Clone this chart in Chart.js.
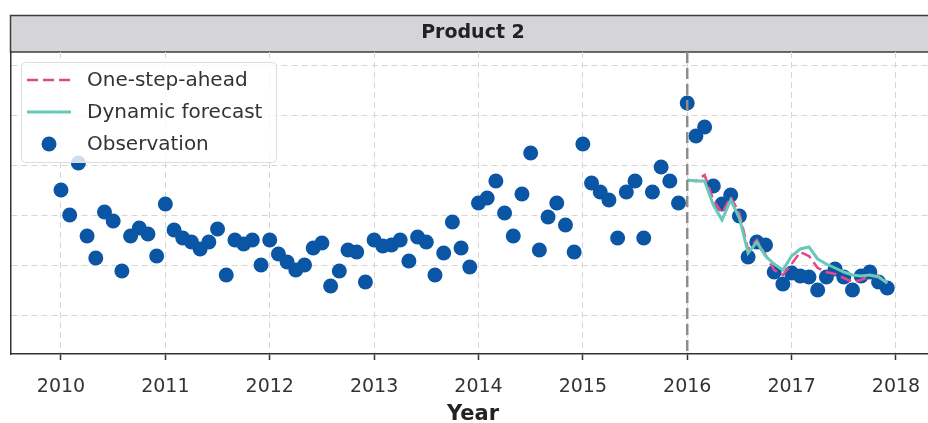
<!DOCTYPE html>
<html>
<head>
<meta charset="utf-8">
<script src="https://cdn.jsdelivr.net/npm/chart.js@4.4.0/dist/chart.umd.min.js"></script>
<style>
html, body { margin: 0; padding: 0; background: #fff; overflow: hidden; }
</style>
</head>
<body>
<canvas id="chart" width="935" height="423"></canvas>
<script>
// Data (monthly, Jan 2010 .. Dec 2017)
const startYear = 2010;
const yearTicks = [2010, 2011, 2012, 2013, 2014, 2015, 2016, 2017, 2018];
const valueTicks = [10, 20, 30, 40, 50, 60];
const splitYear = 2016;

const observations = [
    35.0, 30.0, 40.4, 25.8, 21.4, 30.6, 28.8, 18.8, 25.8, 27.4, 26.2, 21.8,
    32.2, 27.0, 25.4, 24.6, 23.2, 24.6, 27.2, 18.0, 25.0, 24.2, 25.0, 20.0,
    25.0, 22.2, 20.6, 19.0, 20.0, 23.4, 24.4, 15.8, 18.8, 23.0, 22.6, 16.6,
    25.0, 23.8, 24.0, 25.0, 20.8, 25.6, 24.6, 18.0, 22.4, 28.6, 23.4, 19.6,
    32.4, 33.4, 36.8, 30.4, 25.8, 34.2, 42.4, 23.0, 29.6, 32.4, 28.0, 22.6,
    44.2, 36.4, 34.6, 33.0, 25.4, 34.6, 36.8, 25.4, 34.6, 39.6, 36.8, 32.4,
    52.4, 45.8, 47.6, 35.8, 32.2, 34.0, 29.8, 21.6, 24.6, 24.0, 18.6, 16.2,
    18.4, 17.8, 17.6, 15.0, 17.6, 19.2, 17.6, 15.0, 17.8, 18.6, 16.6, 15.4
];

// Forecasts start Jan 2016
const oneStepAhead = [
    37.0, 36.8, 38.0, 33.0, 30.4, 33.6, 30.4, 23.0, 25.0, 22.0, 19.0, 18.0,
    20.2, 22.6, 21.8, 19.4, 18.6, 18.2, 17.4, 16.6, 17.0, 17.8, 17.8, 16.4
];
const dynamicForecast = [
    37.0, 36.8, 36.8, 32.0, 29.0, 33.0, 29.4, 22.4, 24.6, 21.8, 20.2, 19.0,
    21.8, 23.2, 23.6, 21.2, 20.2, 19.4, 18.6, 18.0, 17.8, 18.0, 17.6, 16.4
];

const FONT = 'DejaVu Sans';
const BLUE = '#0b55a5';
const PINK = '#e8468c';
const TEAL = '#68c9b9';
const GRID = '#d6d6d6';
const AXIS = '#333333';

function toPoints(values, fromYear) {
    return values.map((v, i) => ({ x: fromYear + i / 12, y: v }));
}

// Title box, split line and legend
const decorPlugin = {
    id: 'decor',
    beforeDraw(chart) {
        const ctx = chart.ctx;
        const area = chart.chartArea;
        ctx.save();
        ctx.fillStyle = '#d5d5d8';
        ctx.fillRect(10, 15, 930, area.top - 15);
        ctx.strokeStyle = '#3c3c3c';
        ctx.lineWidth = 1.5;
        ctx.strokeRect(10.5, 15.5, 930, area.top - 15.5);
        ctx.restore();
    },
    afterDatasetsDraw(chart) {
        const ctx = chart.ctx;
        const area = chart.chartArea;
        const x = chart.scales.x.getPixelForValue(splitYear);

        ctx.save();
        ctx.strokeStyle = '#8e8e8e';
        ctx.lineWidth = 2.5;
        ctx.setLineDash([11, 5]);
        ctx.beginPath();
        ctx.moveTo(x, area.top);
        ctx.lineTo(x, area.bottom);
        ctx.stroke();
        ctx.restore();

        // legend
        ctx.save();
        ctx.fillStyle = 'rgba(255,255,255,0.8)';
        ctx.strokeStyle = '#dddddd';
        ctx.lineWidth = 1;
        ctx.beginPath();
        ctx.roundRect(21.5, 62.5, 255, 100, 4);
        ctx.fill();
        ctx.stroke();

        const rows = [80, 112, 144];
        const items = [chart.data.datasets[0], chart.data.datasets[1], chart.data.datasets[2]];
        items.forEach((ds, i) => {
            const y = rows[i];
            if (ds.showLine) {
                ctx.strokeStyle = ds.borderColor;
                ctx.lineWidth = ds.borderWidth;
                ctx.setLineDash(ds.borderDash || []);
                ctx.beginPath();
                ctx.moveTo(27, y);
                ctx.lineTo(71, y);
                ctx.stroke();
                ctx.setLineDash([]);
            } else {
                ctx.fillStyle = ds.backgroundColor;
                ctx.beginPath();
                ctx.arc(49, y, 7.5, 0, Math.PI * 2);
                ctx.fill();
            }
            ctx.fillStyle = '#333';
            ctx.font = '20px "' + FONT + '"';
            ctx.textBaseline = 'middle';
            ctx.fillText(ds.label, 87, y + 1);
        });
        ctx.restore();
    }
};

new Chart(document.getElementById('chart'), {
    type: 'scatter',
    data: {
        datasets: [{
            label: 'One-step-ahead',
            data: toPoints(oneStepAhead, splitYear),
            showLine: true,
            borderColor: PINK,
            backgroundColor: PINK,
            borderWidth: 2.5,
            borderDash: [11, 5],
            pointRadius: 0,
            order: 1
        }, {
            label: 'Dynamic forecast',
            data: toPoints(dynamicForecast, splitYear),
            showLine: true,
            borderColor: TEAL,
            backgroundColor: TEAL,
            borderWidth: 3,
            pointRadius: 0,
            order: 0
        }, {
            label: 'Observation',
            data: toPoints(observations, startYear),
            showLine: false,
            backgroundColor: BLUE,
            borderWidth: 0,
            pointRadius: 7.5,
            order: 2
        }]
    },
    options: {
        responsive: false,
        animation: false,
        devicePixelRatio: 1,
        layout: { autoPadding: false, padding: { left: 11, top: 15, right: 0, bottom: 0 } },
        plugins: {
            legend: { display: false },
            tooltip: { enabled: false },
            title: {
                display: true,
                text: 'Product 2',
                color: '#222',
                font: { family: FONT, size: 19, weight: 'bold', lineHeight: 1 },
                padding: { top: 9, bottom: 9 }
            }
        },
        scales: {
            x: {
                type: 'linear',
                min: 2009.521,
                max: 2018.374,
                afterBuildTicks: s => { s.ticks = yearTicks.map(v => ({ value: v })); },
                afterFit: s => { s.height = 69; s.paddingLeft = 0; s.paddingRight = 0; },
                ticks: {
                    callback: v => String(v),
                    color: AXIS,
                    font: { family: FONT, size: 19 },
                    padding: 16,
                    maxRotation: 0,
                    autoSkip: false
                },
                grid: {
                    color: GRID,
                    lineWidth: 1,
                    tickColor: AXIS,
                    tickLength: 6,
                    tickWidth: 1.5
                },
                border: { color: AXIS, width: 1.5, dash: [6, 4] },
                title: {
                    display: true,
                    text: 'Year',
                    color: '#222',
                    font: { family: FONT, size: 21, weight: 'bold', lineHeight: 0.8 },
                    padding: 0
                }
            },
            y: {
                min: 2.2,
                max: 62.6,
                afterBuildTicks: s => { s.ticks = valueTicks.map(v => ({ value: v })); },
                afterFit: s => { s.width = 0; },
                ticks: { display: false },
                grid: { color: GRID, lineWidth: 1, drawTicks: false },
                border: { color: AXIS, width: 1.5, dash: [6, 4] }
            }
        }
    },
    plugins: [decorPlugin]
});
</script>
</body>
</html>
